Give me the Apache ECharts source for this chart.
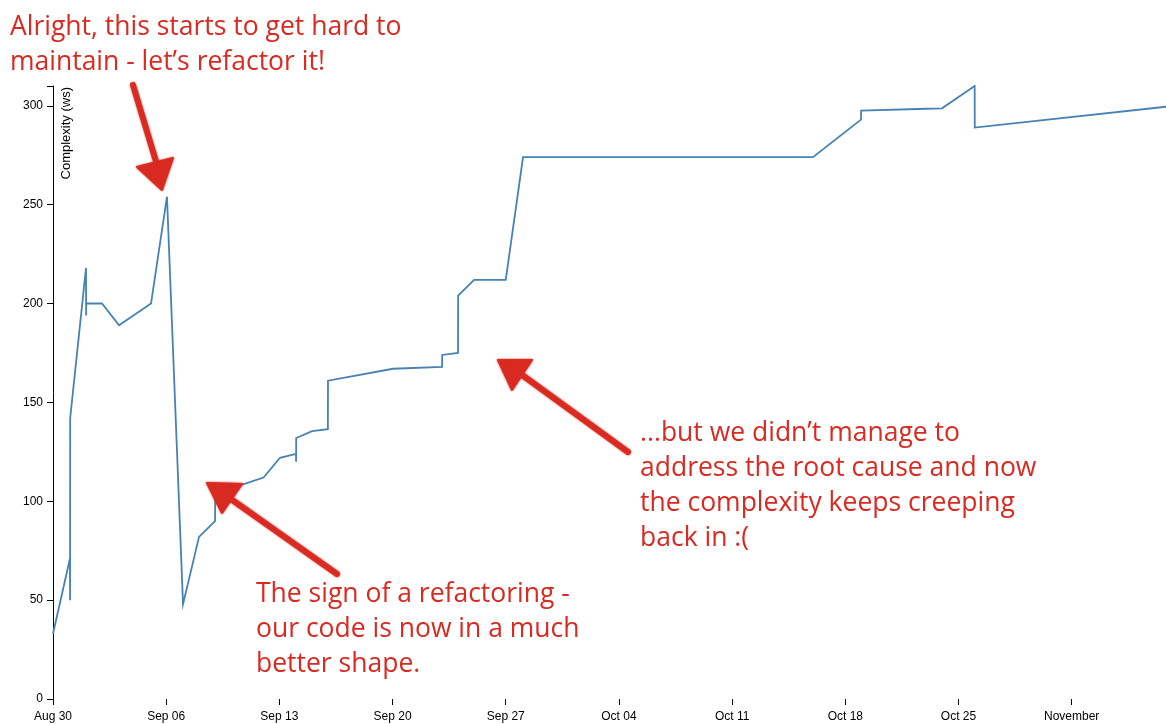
<!DOCTYPE html>
<html>
<head>
<meta charset="utf-8">
<title>Complexity over time</title>
<script src="https://cdn.jsdelivr.net/npm/echarts@6/dist/echarts.min.js"></script>
<style>
  html, body { margin: 0; padding: 0; background: #ffffff; }
  #chart { width: 1166px; height: 724px; }
</style>
</head>
<body>
<div id="chart"></div>
<script>
// Commit timestamps (2015) and the whitespace complexity measured at each commit.
const commitTimes = [
  '08-30 00:00', '08-31 01:10', '08-31 01:20', '08-31 01:30',
  '09-01 01:00', '09-01 01:10', '09-01 01:20', '09-02 00:45',
  '09-03 02:00', '09-05 01:30', '09-06 01:10', '09-07 01:00',
  '09-08 00:45', '09-09 00:30', '09-09 00:45', '09-10 13:30',
  '09-12 00:30', '09-13 01:00', '09-14 00:45', '09-14 00:50',
  '09-14 01:00', '09-15 00:30', '09-16 00:00', '09-16 00:10',
  '09-20 00:45', '09-23 01:30', '09-23 01:40', '09-24 01:10',
  '09-24 01:20', '09-25 01:00', '09-27 00:00', '09-28 01:40',
  '10-16 00:00', '10-18 23:15', '10-18 23:30', '10-23 01:10',
  '10-23 23:30', '10-26 00:00', '10-26 00:10', '11-06 20:00'
];
const complexity = [
  33, 71, 50, 142,
  218, 194, 200, 200,
  189, 200, 254, 48,
  82, 90, 101, 108,
  112, 122, 124, 120,
  132, 135.5, 136.5, 161,
  167, 168, 174, 175,
  204, 212, 212, 274,
  274, 293, 297.5, 298.5,
  298.7, 310, 289, 299.5
];

// Weekly ticks on the time axis, counted in days from Aug 30.
const xTickDays = [0, 7, 14, 21, 28, 35, 42, 49, 56, 63];
const xTickLabels = ['Aug 30', 'Sep 06', 'Sep 13', 'Sep 20', 'Sep 27',
                     'Oct 04', 'Oct 11', 'Oct 18', 'Oct 25', 'November'];
const yTickValues = [0, 50, 100, 150, 200, 250, 300];

const annotations = {
  before: ['Alright, this starts to get hard to', 'maintain - let\u2019s refactor it!'],
  refactor: ['The sign of a refactoring -', 'our code is now in a much', 'better shape.'],
  creeping: ['...but we didn\u2019t manage to', 'address the root cause and now',
             'the complexity keeps creeping', 'back in :(']
};

const YEAR = 2015;
const START = Date.UTC(YEAR, 7, 30);
const DAY = 86400000;
function dayOffset(s) {
  const [md, hm] = s.split(' ');
  const [m, d] = md.split('-').map(Number);
  const [h, mi] = hm.split(':').map(Number);
  return (Date.UTC(YEAR, m - 1, d, h, mi) - START) / DAY;
}

const seriesData = commitTimes.map((t, i) => [dayOffset(t), complexity[i]]);
const xMax = seriesData[seriesData.length - 1][0];
const yMax = Math.max(...complexity);

const RED = '#d92a22';
const HAND = 'Open Sans';
const AXIS_FONT = 'Liberation Sans';

function noteText(x, y, lines) {
  return {
    type: 'text', x: x, y: y, z: 10,
    style: {
      text: lines.join('\n'),
      fill: RED,
      font: '26.5px "' + HAND + '"',
      lineHeight: 35,
      align: 'left',
      verticalAlign: 'top'
    }
  };
}

function arrow(tail, mid, head) {
  return [
    {
      type: 'polyline', z: 9,
      shape: { points: [tail, mid] },
      style: { stroke: RED, lineWidth: 6, lineCap: 'round', lineJoin: 'round',
               shadowBlur: 2, shadowColor: RED, opacity: 0.95 }
    },
    {
      type: 'polygon', z: 9,
      shape: { points: head },
      style: { fill: RED, stroke: RED, lineWidth: 2, lineJoin: 'round',
               shadowBlur: 2, shadowColor: RED, opacity: 0.95 }
    }
  ];
}

const chart = echarts.init(document.getElementById('chart'), null, { renderer: 'canvas' });

chart.setOption({
  animation: false,
  backgroundColor: '#ffffff',
  grid: { left: 53, right: 0, top: 86, bottom: 25, containLabel: false },
  xAxis: {
    type: 'value',
    min: 0,
    max: xMax,
    interval: 7,
    splitLine: { show: false },
    axisLine: { show: false },
    axisTick: {
      show: true, length: 6, inside: false,
      customValues: xTickDays,
      lineStyle: { color: '#000', width: 1 }
    },
    axisLabel: {
      customValues: xTickDays,
      margin: 12,
      color: '#000',
      fontFamily: AXIS_FONT,
      fontSize: 12,
      formatter: v => xTickLabels[xTickDays.indexOf(Math.round(v))] || ''
    }
  },
  yAxis: {
    type: 'value',
    min: 0,
    max: yMax,
    interval: 50,
    splitLine: { show: false },
    axisLine: { show: true, onZero: false, lineStyle: { color: '#000', width: 1 } },
    axisTick: {
      show: true, length: 6, inside: false,
      customValues: yTickValues.concat([yMax]),
      lineStyle: { color: '#000', width: 1 }
    },
    axisLabel: {
      customValues: yTickValues,
      margin: 10,
      color: '#000',
      fontFamily: AXIS_FONT,
      fontSize: 12
    }
  },
  series: [{
    type: 'line',
    data: seriesData,
    showSymbol: false,
    symbol: 'none',
    lineStyle: { color: '#4682b4', width: 1.8, join: 'miter' },
    z: 3
  }],
  graphic: [
    {
      type: 'text', x: 60, y: 87, rotation: Math.PI / 2, z: 10,
      style: {
        text: 'Complexity (ws)',
        fill: '#000',
        font: '13px "' + AXIS_FONT + '"',
        align: 'right',
        verticalAlign: 'top'
      }
    },
    noteText(10, 10, annotations.before),
    noteText(256, 577, annotations.refactor),
    noteText(640, 416, annotations.creeping),
    ...arrow([133, 85], [158, 168], [[137, 167], [173, 158], [162, 190]]),
    ...arrow([337, 574], [228, 497], [[207, 483], [242, 484], [222, 513]]),
    ...arrow([628, 452], [518, 372], [[498, 360], [532, 360], [512, 390]])
  ]
});
</script>
</body>
</html>
